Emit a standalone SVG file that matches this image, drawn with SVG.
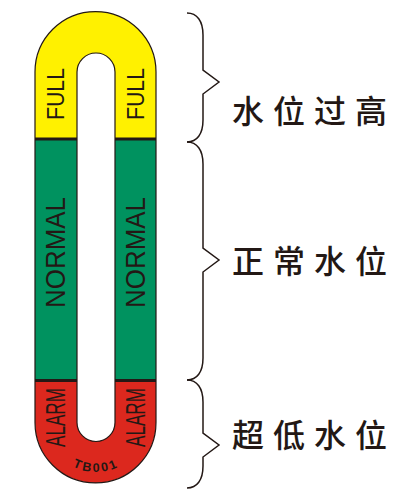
<svg xmlns="http://www.w3.org/2000/svg" width="408" height="504" viewBox="0 0 408 504">
<style>
.lbl{font-family:"Liberation Sans",Arial,sans-serif;fill:#231815;text-anchor:middle}
.cn{font-family:"Noto Sans CJK SC",sans-serif;font-size:32px;font-weight:500;fill:#231815;letter-spacing:9px}
.brace{fill:none;stroke:#231815;stroke-width:1.5;stroke-linejoin:miter}
.div{stroke:#231815;stroke-width:3}
</style>
<defs>
<clipPath id="u">
<path id="ushape" fill-rule="evenodd" clip-rule="evenodd" d="M35,72 A60.5,60.5 0 0 1 156,72 L156,422.5 A60.5,60.5 0 0 1 35,422.5 Z M77,72 L77,422.5 A19,19 0 0 0 115,422.5 L115,72 A19,19 0 0 0 77,72 Z"/>
</clipPath>
<path id="arc" d="M46,422 A50,50 0 0 0 146,422"/>
</defs>
<g id="gauge">
<g clip-path="url(#u)">
<rect x="30" y="5" width="130" height="134" fill="#FFF100"/>
<rect x="30" y="139" width="130" height="242" fill="#00925F"/>
<rect x="30" y="381" width="130" height="110" fill="#DC281E"/>
<line class="div" x1="30" y1="139" x2="160" y2="139"/>
<line class="div" x1="30" y1="380.5" x2="160" y2="380.5"/>
</g>
<path d="M35,72 A60.5,60.5 0 0 1 156,72 L156,422.5 A60.5,60.5 0 0 1 35,422.5 Z M77,72 L77,422.5 A19,19 0 0 0 115,422.5 L115,72 A19,19 0 0 0 77,72 Z" fill="none" stroke="#231815" stroke-width="1.2"/>
</g>
<g id="full-left"><text class="lbl" font-size="24" transform="translate(64,94) rotate(-90)" textLength="52" lengthAdjust="spacingAndGlyphs">FULL</text></g>
<g id="full-right"><text class="lbl" font-size="24" transform="translate(144,94) rotate(-90)" textLength="52" lengthAdjust="spacingAndGlyphs">FULL</text></g>
<g id="normal-left"><text class="lbl" font-size="27" transform="translate(65,252.5) rotate(-90)" textLength="111" lengthAdjust="spacingAndGlyphs">NORMAL</text></g>
<g id="normal-right"><text class="lbl" font-size="27" transform="translate(145,252.5) rotate(-90)" textLength="111" lengthAdjust="spacingAndGlyphs">NORMAL</text></g>
<g id="alarm-left"><text class="lbl" font-size="28" transform="translate(65,417.5) rotate(-90)" textLength="59" lengthAdjust="spacingAndGlyphs">ALARM</text></g>
<g id="alarm-right"><text class="lbl" font-size="28" transform="translate(145,417.5) rotate(-90)" textLength="59" lengthAdjust="spacingAndGlyphs">ALARM</text></g>
<g id="code"><text class="lbl" font-size="12.5" font-weight="bold" letter-spacing="2.2"><textPath href="#arc" startOffset="50%">TB001</textPath></text></g>
<g id="connectors">
<path class="brace" d="M187,13 C197,13 203,21 203,35 L203,70 L219,82 L203,94 L203,120 C203,134 197,142 187,142"/>
<path class="brace" d="M187,142 C197,142 203,150 203,164 L203,248 L219,260 L203,272 L203,358 C203,372 197,380 187,380"/>
<path class="brace" d="M187,380 C197,380 203,388 203,402 L203,433 L219,445 L203,457 L203,466 C203,480 197,488 187,488"/>
</g>
<g id="label-high"><text class="cn" x="232" y="123">水位过高</text></g>
<g id="label-normal"><text class="cn" x="232" y="273">正常水位</text></g>
<g id="label-low"><text class="cn" x="232" y="447">超低水位</text></g>
</svg>
